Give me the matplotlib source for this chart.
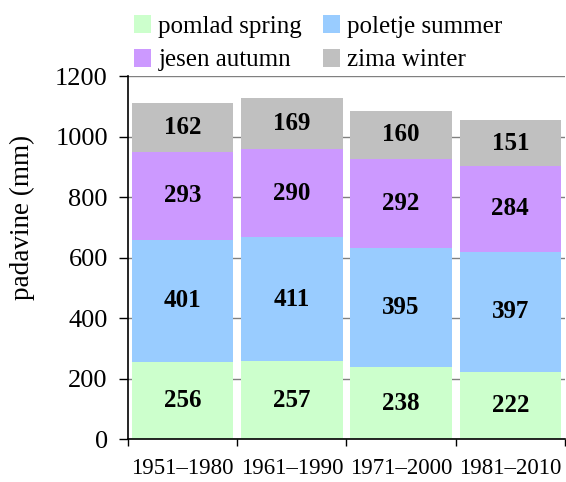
import numpy as np
import matplotlib.pyplot as plt
from matplotlib.patches import Patch

# Seasonal precipitation by climate normal period
periods = ['1951–1980', '1961–1990', '1971–2000', '1981–2010']
spring = [256, 257, 238, 222]
summer = [401, 411, 395, 397]
autumn = [293, 290, 292, 284]
winter = [162, 169, 160, 151]

series = [
    ('pomlad spring', spring, '#CCFFCC'),
    ('poletje summer', summer, '#99CCFF'),
    ('jesen autumn', autumn, '#CC99FF'),
    ('zima winter', winter, '#C0C0C0'),
]

plt.rcParams['font.family'] = ['Liberation Serif', 'DejaVu Serif']

fig = plt.figure(figsize=(5.66, 4.82), dpi=100)
ax = fig.add_axes([0.2261, 0.0892, 0.772, 0.7531])

x = np.arange(len(periods))
bottom = np.zeros(len(periods))
for name, vals, color in series:
    vals = np.array(vals, dtype=float)
    ax.bar(x, vals, width=0.93, bottom=bottom, color=color,
           edgecolor='none', zorder=2)
    for xi, b, v in zip(x, bottom, vals):
        ax.text(xi, b + v / 2, f'{int(v)}', ha='center', va='center',
                fontsize=18, fontweight='bold', zorder=3)
    bottom += vals

ax.set_xlim(-0.5, 3.5)
ax.set_ylim(0, 1200)
ax.set_yticks(range(0, 1201, 200))
ax.yaxis.grid(True, color='#808080', linewidth=1, zorder=0)
ax.set_axisbelow(True)

# category labels between boundary tick marks
ax.set_xticks(np.arange(-0.5, 4.0, 1.0))
ax.set_xticklabels([])
ax.set_xticks(x, minor=True)
ax.set_xticklabels(periods, minor=True, fontsize=16.5)
ax.tick_params(axis='x', which='minor', length=0, pad=13.5)
ax.tick_params(axis='x', which='major', length=5, width=1, direction='out')
ax.tick_params(axis='y', length=6.5, width=1, pad=8, labelsize=19)

for side in ('top', 'right'):
    ax.spines[side].set_visible(False)
ax.spines['left'].set_linewidth(1.2)
ax.spines['bottom'].set_linewidth(1.2)

ax.set_ylabel('padavine (mm)', fontsize=19.5)
ax.yaxis.set_label_coords(-0.213, 0.61)

handles = [Patch(facecolor=c, edgecolor='none', label=n) for n, _, c in series]
order = [handles[0], handles[2], handles[1], handles[3]]
fig.legend(handles=order, ncol=2, loc='upper left',
           bbox_to_anchor=(0.2367, 0.968), frameon=False, fontsize=18,
           handlelength=0.7, handleheight=0.72, handletextpad=0.28,
           columnspacing=0.82, labelspacing=0.43, borderaxespad=0,
           borderpad=0)

fig.savefig('out.png', dpi=100)
